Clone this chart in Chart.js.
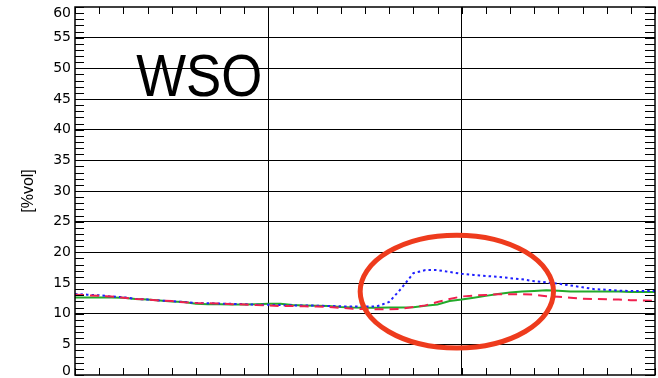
<!DOCTYPE html>
<html>
<head>
<meta charset="utf-8">
<script src="https://cdn.jsdelivr.net/npm/chart.js@4/dist/chart.umd.min.js"></script>
<style>
html,body{margin:0;padding:0;background:#fff;}
#wrap{width:658px;height:378px;position:relative;}
</style>
</head>
<body>
<div id="wrap"><canvas id="c" width="658" height="378"></canvas></div>
<script>
// ---- data ----
const hours = [0,0.5,1,1.5,2,2.5,3,3.5,4,4.5,5,5.5,6,6.5,7,7.5,8,8.5,9,9.5,10,10.5,11,11.5,12,12.5,13,13.5,14,14.5,15,15.5,16,16.5,17,17.5,18,18.5,19,19.5,20,20.5,21,21.5,22,22.5,23,23.5,24];
const blueSeries = [13.2,13.1,13.0,12.8,12.7,12.4,12.3,12.15,12.05,11.9,11.75,11.7,11.65,11.6,11.55,11.45,11.45,11.4,11.35,11.35,11.3,11.25,11.2,11.15,11.15,11.2,11.9,14.1,16.6,17.1,17.1,16.8,16.5,16.3,16.15,16.0,15.8,15.6,15.3,15.1,14.9,14.6,14.3,14.0,13.9,13.75,13.7,13.7,13.7];
const redSeries = [13.1,13.0,12.9,12.8,12.6,12.4,12.3,12.15,12.05,11.85,11.75,11.7,11.65,11.55,11.5,11.4,11.35,11.25,11.25,11.2,11.15,11.1,10.95,10.8,10.75,10.7,10.7,10.8,11.1,11.35,11.9,12.4,12.8,12.95,13.05,13.15,13.15,13.15,13.1,12.85,12.75,12.6,12.45,12.4,12.35,12.3,12.2,12.15,12.1];
const greenSeries = [12.65,12.65,12.65,12.65,12.6,12.4,12.3,12.15,12.0,11.9,11.6,11.55,11.55,11.5,11.5,11.55,11.6,11.6,11.4,11.35,11.3,11.25,11.1,11.0,10.95,10.95,11.0,11.0,11.05,11.3,11.5,12.05,12.3,12.6,12.9,13.2,13.45,13.6,13.7,13.8,13.75,13.6,13.6,13.6,13.6,13.6,13.55,13.55,13.55];
const yTickLabels = [0,5,10,15,20,25,30,35,40,45,50,55,60];
const xMajorTicks = [0,8,16,24];
const yAxisTitle = '[%vol]';
const stationLabel = 'WSO';
// highlighted region (data units): centre hour, centre value, half-width hours, half-height value
const highlight = {x:15.8, y:13.6, rx:4.0, ry:9.2};
const labelAnchor = {x:2.53, y:45.5};

const pts = s => hours.map((h,i)=>({x:h,y:s[i]}));

const framePlugin = {
  id:'frame',
  beforeDraw(chart){
    // keep the end labels (0 and 60) inside the canvas, as in the reference
    try{
      const y = chart.scales.y;
      const items = y.getLabelItems(chart.chartArea);
      items.forEach(it=>{
        if(it.label==='0') it.options.translation[1] -= 4;
        if(it.label==='60') it.options.translation[1] += 6;
      });
    }catch(e){}
  },
  afterDraw(chart){
    const {ctx, chartArea:a, scales:{x,y}} = chart;
    ctx.save();
    ctx.strokeStyle = '#000';
    ctx.lineWidth = 1;
    for(let v=0; v<=60; v++){
      const py = Math.round(y.getPixelForValue(v))+0.5;
      ctx.beginPath();
      ctx.moveTo(a.left, py); ctx.lineTo(a.left+9, py);
      ctx.moveTo(a.right, py); ctx.lineTo(a.right-10, py);
      ctx.stroke();
    }
    for(let h=0; h<=24; h++){
      const px = Math.round(x.getPixelForValue(h))+0.5;
      ctx.beginPath();
      ctx.moveTo(px, a.top); ctx.lineTo(px, a.top+7);
      ctx.moveTo(px, a.bottom); ctx.lineTo(px, a.bottom-7);
      ctx.stroke();
    }
    ctx.lineWidth = 1.5;
    ctx.strokeRect(a.left, a.top, a.right-a.left, a.bottom-a.top);
    const cx = x.getPixelForValue(highlight.x), cy = y.getPixelForValue(highlight.y);
    const rx = x.getPixelForValue(highlight.x+highlight.rx)-cx;
    const ry = cy - y.getPixelForValue(highlight.y+highlight.ry);
    ctx.beginPath();
    ctx.ellipse(cx, cy, rx, ry, 0, 0, Math.PI*2);
    ctx.lineWidth = 5;
    ctx.strokeStyle = '#ee3b1d';
    ctx.stroke();
    const lx = x.getPixelForValue(labelAnchor.x), ly = y.getPixelForValue(labelAnchor.y);
    ctx.translate(lx, ly);
    ctx.scale(0.88, 1);
    ctx.fillStyle = '#000';
    ctx.font = '60px "Liberation Sans", Arial, sans-serif';
    ctx.textBaseline = 'alphabetic';
    ctx.textAlign = 'left';
    ctx.fillText(stationLabel, 0, 0);
    ctx.restore();
  }
};

new Chart(document.getElementById('c'), {
  type:'line',
  data:{
    datasets:[
      {label:'red', data:pts(redSeries), borderColor:'#f0204e', borderWidth:2, borderDash:[9,6], pointRadius:0, fill:false, tension:0},
      {label:'blue', data:pts(blueSeries), borderColor:'#1f1fff', borderWidth:2, borderDash:[2.5,3], pointRadius:0, fill:false, tension:0},
      {label:'green', data:pts(greenSeries), borderColor:'#22aa2a', borderWidth:2, pointRadius:0, fill:false, tension:0}
    ]
  },
  options:{
    responsive:false,
    animation:false,
    devicePixelRatio:1,
    layout:{padding:{left:0,right:3,top:7,bottom:3}},
    plugins:{legend:{display:false}, tooltip:{enabled:false}, title:{display:false}},
    scales:{
      x:{
        type:'linear', min:0, max:24,
        afterBuildTicks(s){ s.ticks = xMajorTicks.map(v=>({value:v})); },
        afterFit(s){ s.height = 0; s.paddingLeft = 0; s.paddingRight = 0; },
        ticks:{display:false},
        border:{display:false},
        grid:{drawTicks:false, lineWidth:1, color:c => (c.tick && (c.tick.value===8||c.tick.value===16)) ? '#000' : 'rgba(0,0,0,0)'}
      },
      y:{
        type:'linear', min:0, max:60,
        afterBuildTicks(s){ s.ticks = yTickLabels.map(v=>({value:v})); },
        afterFit(s){ s.width = 75; s.paddingTop = 0; s.paddingBottom = 0; },
        border:{display:false},
        grid:{drawTicks:false, lineWidth:1, color:c => (c.tick && c.tick.value>0 && c.tick.value<60) ? '#000' : 'rgba(0,0,0,0)'},
        ticks:{padding:4, color:'#000', font:{family:'"DejaVu Sans", sans-serif', size:14}, autoSkip:false},
        title:{display:true, text:yAxisTitle, color:'#000', font:{family:'"Liberation Sans", Arial, sans-serif', size:16}, padding:{top:19,bottom:0}}
      }
    }
  },
  plugins:[framePlugin]
});
</script>
</body>
</html>
